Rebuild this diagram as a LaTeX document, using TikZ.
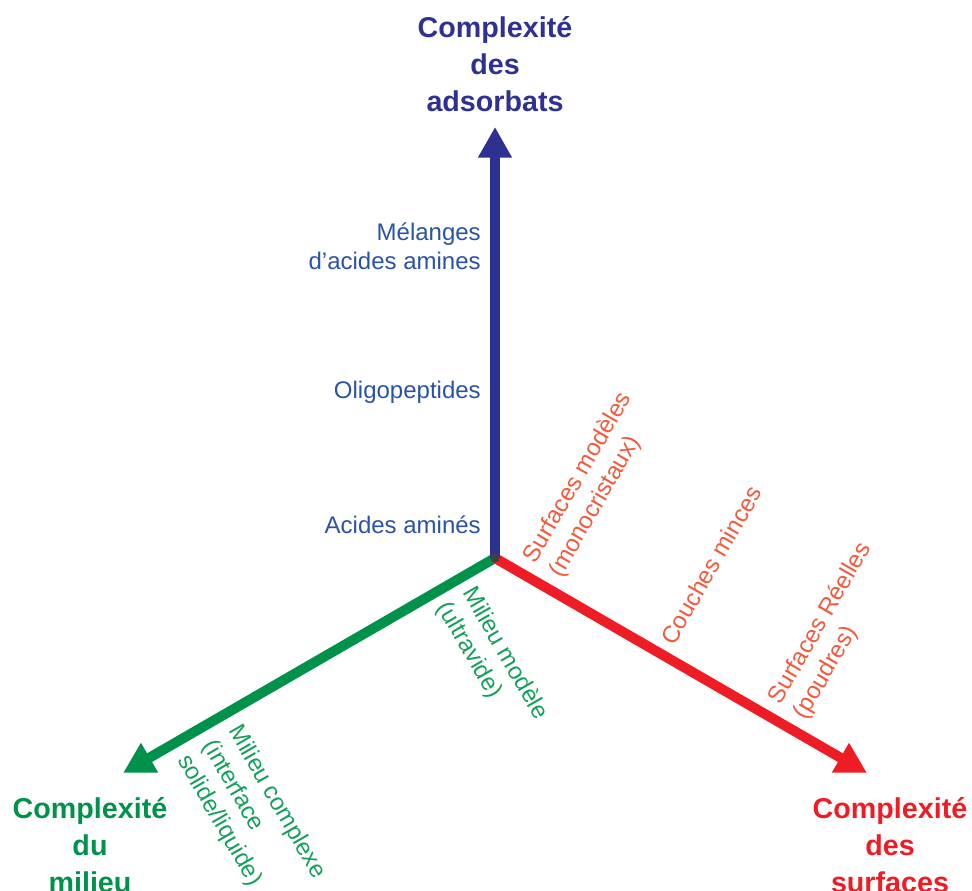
\documentclass[tikz,border=0pt]{standalone}
\usepackage{fontspec}
\setmainfont{Liberation Sans}
\usetikzlibrary{arrows.meta}
\definecolor{bleu}{HTML}{2E3192}
\definecolor{bleuclair}{HTML}{2A52A8}
\definecolor{rouge}{HTML}{EE1C24}
\definecolor{rougeclair}{HTML}{F15A3C}
\definecolor{vert}{HTML}{00924A}
\definecolor{vertclair}{HTML}{14A05A}
\tikzset{
  axe/.style={line width=7.5pt, -{Triangle[length=23pt,width=24pt]}},
  etiq/.style={font=\fontsize{18}{22}\selectfont, inner sep=0pt},
  titre/.style={font=\fontsize{21.5}{27.5}\selectfont\bfseries, align=center, inner sep=0pt}
}
\begin{document}
\begin{tikzpicture}[x=0.75pt, y=-0.75pt]
\useasboundingbox (0,0) rectangle (972,890);

\coordinate (O) at (495,558);
\coordinate (A) at (495,127);
\coordinate (S) at (867,773);
\coordinate (M) at (123,773);

\draw[axe, vert](O)--(M);
\draw[axe, rouge](O)--(S);
\draw[axe, bleu](O)--(A);
\fill[black!75] (O) circle (3.5pt);

\node[titre, bleu] (tA) at (495,64) {Complexité\\des\\adsorbats};
\node[titre, rouge] (tS) at (890,845) {Complexité\\des\\surfaces};
\node[titre, vert] (tM) at (90,845) {Complexité\\du\\milieu};

\node[etiq, bleuclair, align=right, anchor=east] (a3) at (481,246) {Mélanges\\d’acides amines};
\node[etiq, bleuclair, anchor=east] (a2) at (481,392) {Oligopeptides};
\node[etiq, bleuclair, anchor=east] (a1) at (481,525) {Acides aminés};

\node[etiq, rougeclair, align=left, rotate=60] (s1) at (591,485) {Surfaces modèles\\(monocristaux)};
\node[etiq, rougeclair, rotate=60] (s2) at (711,565) {Couches minces};
\node[etiq, rougeclair, align=left, rotate=60] (s3) at (833,631) {Surfaces Réelles\\(poudres)};

\node[etiq, vertclair, align=left, rotate=-60] (m1) at (492,661) {Milieu modèle\\(ultravide)};
\node[etiq, vertclair, align=left, rotate=-60] (m2) at (251,817) {Milieu complexe\\(interface\\solide/liquide)};
\end{tikzpicture}
\end{document}
